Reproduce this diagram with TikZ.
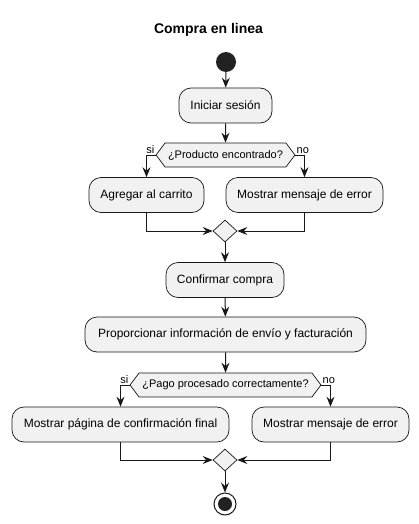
\documentclass[tikz,border=0pt]{standalone}
\usepackage{fontspec}
\setmainfont{Liberation Sans}
\usetikzlibrary{arrows.meta,shapes.symbols,shapes.geometric}
\definecolor{boxfill}{HTML}{F1F1F1}
\definecolor{ln}{HTML}{181818}
\definecolor{dot}{HTML}{222222}
\begin{document}
\begin{tikzpicture}[x=1pt,y=-1pt,
  act/.style={draw=ln,fill=boxfill,rounded corners=12pt,line width=0.7pt,minimum height=35pt,inner sep=0pt,font=\fontsize{12}{14}\selectfont},
  hex/.style={draw=ln,fill=boxfill,shape=signal,signal to=east and west,signal pointer angle=106,line width=0.7pt,minimum height=24pt,inner sep=0pt,font=\fontsize{11}{13}\selectfont},
  merge/.style={draw=ln,fill=boxfill,shape=diamond,minimum width=24pt,minimum height=22pt,inner sep=0pt,line width=0.7pt},
  arr/.style={draw=ln,line width=1pt,-{Stealth[length=10pt,width=8pt,inset=3.5pt]}},
  lbl/.style={font=\fontsize{11}{13}\selectfont,inner sep=1pt}]
\useasboundingbox (0,0) rectangle (419,524);
\node[font=\bfseries\fontsize{14}{16}\selectfont] (title) at (208.5,30) {Compra en linea};
\node[circle,fill=dot,minimum size=20pt,inner sep=0pt] (start) at (226,62) {};
\node[act,minimum width=93pt] (a) at (225.5,105.5) {Iniciar sesión};
\node[hex,minimum width=139pt] (d1) at (225.5,155) {¿Producto encontrado?};
\node[act,minimum width=115pt] (b1) at (146.5,195) {Agregar al carrito};
\node[act,minimum width=157pt] (b2) at (304.5,195) {Mostrar mensaje de error};
\node[merge] (m1) at (225,231) {};
\node[act,minimum width=118pt] (c) at (225,280) {Confirmar compra};
\node[act,minimum width=281pt] (p) at (225.5,334.5) {Proporcionar información de envío y facturación};
\node[hex,minimum width=191pt] (d2) at (225.5,385) {¿Pago procesado correctamente?};
\node[act,minimum width=217pt] (e1) at (120.5,424.5) {Mostrar página de confirmación final};
\node[act,minimum width=157pt] (e2) at (330.5,424.5) {Mostrar mensaje de error};
\node[merge] (m2) at (225,460) {};
\node[circle,draw=ln,fill=white,line width=1pt,minimum size=22pt,inner sep=0pt] (end) at (225,504) {};
\node[circle,fill=dot,minimum size=14pt,inner sep=0pt] (endin) at (end.center) {};
\draw[arr] (start) -- (a);
\draw[arr] (a) -- (d1);
\draw[arr] (d1.west) -| (b1);
\draw[arr] (d1.east) -| (b2);
\node[lbl,anchor=south east] (s1) at (d1.west) {si};
\node[lbl,anchor=south west] (n1) at (d1.east) {no};
\draw[arr] (b1) |- (m1);
\draw[arr] (b2) |- (m1);
\draw[arr] (m1) -- (c);
\draw[arr] (c) -- (p);
\draw[arr] (p) -- (d2);
\draw[arr] (d2.west) -| (e1);
\draw[arr] (d2.east) -| (e2);
\node[lbl,anchor=south east] (s2) at (d2.west) {si};
\node[lbl,anchor=south west] (n2) at (d2.east) {no};
\draw[arr] (e1) |- (m2);
\draw[arr] (e2) |- (m2);
\draw[arr] (m2) -- (end);
\end{tikzpicture}
\end{document}
